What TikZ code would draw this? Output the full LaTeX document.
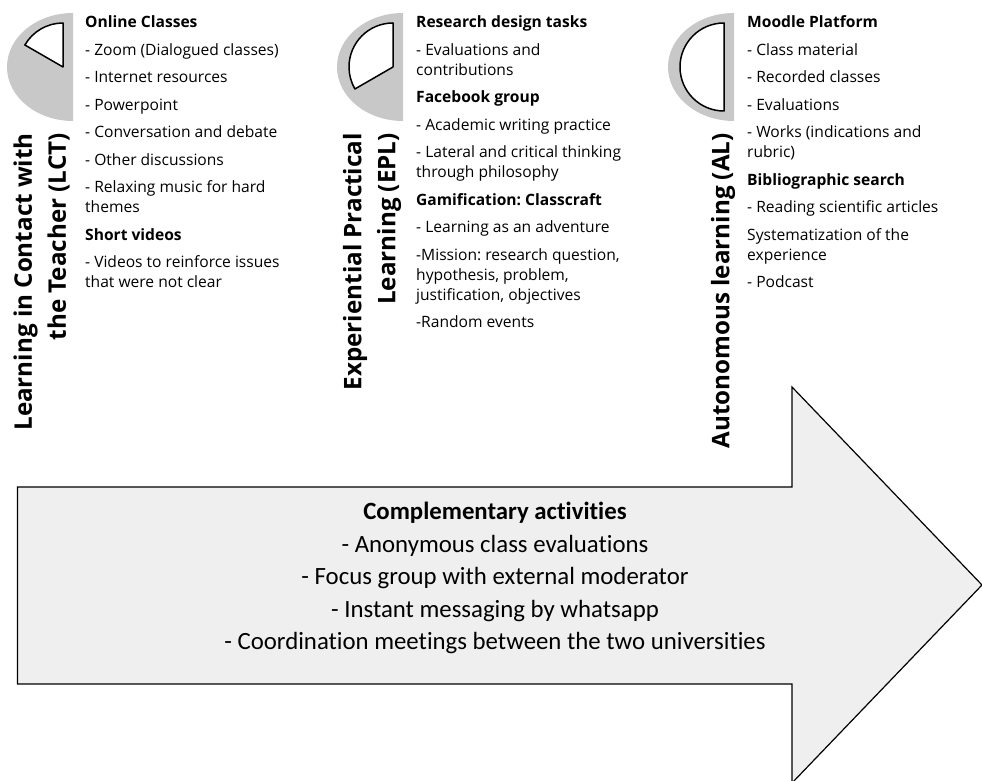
\documentclass[tikz,border=0pt]{standalone}
\usepackage{fontspec}
\setmainfont{Open Sans}
\newfontfamily\calib[Ligatures={NoCommon,NoRare,NoContextual}]{Carlito}
\definecolor{halfgray}{HTML}{C8C8C8}
\definecolor{arrowfill}{HTML}{EFEFEF}
\frenchspacing
\tikzset{
  halfdisk/.style={fill=halfgray, draw=none},
  sector/.style={draw=black, fill=white, line width=1.5pt, line join=round},
  title/.style={rotate=90, anchor=east, inner sep=0pt, align=right,
    font=\bfseries\fontsize{24.2}{34}\selectfont},
  column/.style={anchor=north west, inner sep=0pt, align=left,
    font=\fontsize{15.6}{20}\selectfont},
  bigarrow/.style={fill=arrowfill, draw=black, line width=1.2pt, line join=miter},
  bottomtext/.style={inner sep=0pt, align=center,
    font=\calib\fontsize{24.8}{32.5}\selectfont}
}
\begin{document}
\begin{tikzpicture}[x=1pt,y=1pt]
\useasboundingbox (0,0) rectangle (982,781);
% half disks
\fill[halfdisk] (73,768) arc[start angle=90,end angle=270,x radius=66,y radius=54] -- cycle;
\fill[halfdisk] (403,768) arc[start angle=90,end angle=270,x radius=66,y radius=54] -- cycle;
\fill[halfdisk] (734,768) arc[start angle=90,end angle=270,x radius=66,y radius=54] -- cycle;
% sectors
\draw[sector] (63,714) -- (63,758) arc[start angle=90,end angle=150,radius=44] -- cycle;
\draw[sector] (393,714) -- (393,758) arc[start angle=90,end angle=210,radius=44] -- cycle;
\draw[sector] (724,758) arc[start angle=90,end angle=270,radius=44] -- cycle;
% titles
\node[title] (lct) at (41.5,648) {Learning in Contact with\\the Teacher (LCT)};
\node[title] (epl) at (372,648) {Experiential Practical\\Learning (EPL)};
\node[title] (al) at (723,648) {Autonomous learning (AL)};
% columns
\node[column] (lcttext) at (85,765.5) {\textbf{Online Classes}\\[7.5pt]
- Zoom (Dialogued classes)\\[7.5pt]
- Internet resources\\[7.5pt]
- Powerpoint\\[7.5pt]
- Conversation and debate\\[7.5pt]
- Other discussions\\[7.5pt]
- Relaxing music for hard\\
themes\\[7.5pt]
\textbf{Short videos}\\[7.5pt]
- Videos to reinforce issues\\
that were not clear};
\node[column] (epltext) at (416,765.5) {\textbf{Research design tasks}\\[7.5pt]
- Evaluations and\\
contributions\\[7.5pt]
\textbf{Facebook group}\\[7.5pt]
- Academic writing practice\\[7.5pt]
- Lateral and critical thinking\\
through philosophy\\[7.5pt]
\textbf{Gamification: Classcraft}\\[7.5pt]
- Learning as an adventure\\[7.5pt]
-Mission: research question,\\
hypothesis, problem,\\
justification, objectives\\[7.5pt]
-Random events};
\node[column] (altext) at (747,765.5) {\textbf{Moodle Platform}\\[7.5pt]
- Class material\\[7.5pt]
- Recorded classes\\[7.5pt]
- Evaluations\\[7.5pt]
- Works (indications and\\
rubric)\\[7.5pt]
\textbf{Bibliographic search}\\[7.5pt]
- Reading scientific articles\\[7.5pt]
Systematization of the\\
experience\\[7.5pt]
- Podcast};
% big arrow
\draw[bigarrow] (17.5,294) -- (792,294) -- (792,394) -- (982,196) -- (792,-2) -- (792,97) -- (17.5,97) -- cycle;
\node[bottomtext] (comp) at (495,203) {\textbf{Complementary activities}\\
- Anonymous class evaluations\\
- Focus group with external moderator\\
- Instant messaging by whatsapp\\
- Coordination meetings between the two universities};
\end{tikzpicture}
\end{document}
